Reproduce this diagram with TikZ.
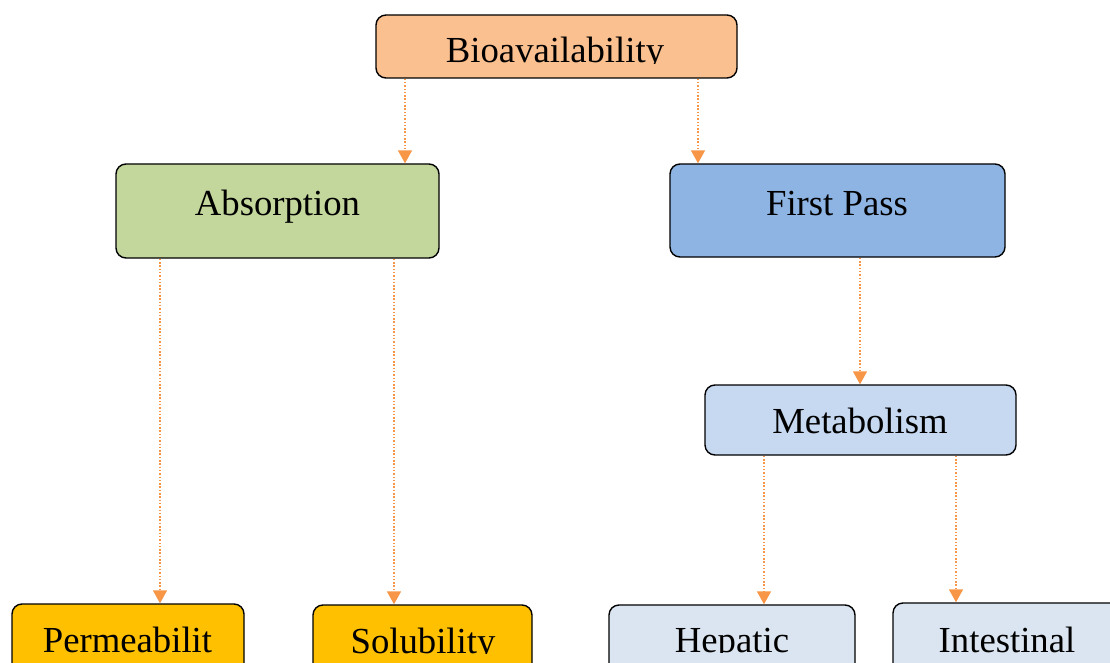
\documentclass[tikz,border=0pt]{standalone}
\usepackage{fontspec}
\setmainfont{Liberation Serif}
\usetikzlibrary{arrows.meta}
\definecolor{peach}{HTML}{FAC090}
\definecolor{green1}{HTML}{C3D69B}
\definecolor{blue1}{HTML}{8EB4E3}
\definecolor{blue2}{HTML}{C6D9F1}
\definecolor{blue3}{HTML}{DBE5F1}
\definecolor{gold}{HTML}{FFC000}
\definecolor{arrc}{HTML}{F79646}
\tikzset{
  box/.style={draw=black, line width=1.4pt, rounded corners=10pt, inner sep=0pt},
  lbl/.style={anchor=base, inner sep=0pt, font=\fontsize{36.7}{44}\selectfont},
  arr/.style={draw=arrc, line width=1.5pt, dash pattern=on 1.5pt off 1.8pt,
    -{Triangle[width=14pt,length=13pt,fill=arrc]}}
}
\begin{document}
\begin{tikzpicture}[x=1pt,y=-1pt]
\useasboundingbox[fill=white] (0,0) rectangle (1110,663);
% boxes
\node[box, fill=peach, minimum width=361pt, minimum height=63pt] (bio) at (556.5,46.5) {};
\node[box, fill=green1, minimum width=323pt, minimum height=94pt] (abs) at (277.5,211) {};
\node[box, fill=blue1, minimum width=335pt, minimum height=93pt] (fp) at (837.5,210.5) {};
\node[box, fill=blue2, minimum width=311pt, minimum height=70pt] (met) at (860.5,420) {};
\node[box, fill=gold, minimum width=232pt, minimum height=80pt] (perm) at (128,644) {};
\node[box, fill=gold, minimum width=219pt, minimum height=80pt] (sol) at (422.5,645) {};
\node[box, fill=blue3, minimum width=246pt, minimum height=80pt] (hep) at (732,645) {};
\node[box, fill=blue3, minimum width=240pt, minimum height=80pt] (int) at (1013,643) {};
% labels (clipped like the original)
\begin{scope}
\clip (376,15) rectangle (737,64);
\node[lbl] (tbio) at (555,63) {Bioavailability};
\end{scope}
\node[lbl] (tabs) at (277.5,215) {Absorption};
\node[lbl] (tfp) at (837,215) {First Pass};
\node[lbl] (tmet) at (860,433) {Metabolism};
\begin{scope}
\clip (12,604) rectangle (244,653);
\node[lbl] (tperm) at (127.5,652) {Permeabilit};
\end{scope}
\begin{scope}
\clip (313,605) rectangle (532,653.5);
\node[lbl] (tsol) at (423,653) {Solubility};
\end{scope}
\begin{scope}
\clip (609,605) rectangle (855,652.5);
\node[lbl] (thep) at (732,652) {Hepatic};
\end{scope}
\node[lbl] (tint) at (1007,652) {Intestinal};
% connectors
\draw[arr] (bio.south -| 405,0) -- (abs.north -| 405,0);
\draw[arr] (bio.south -| 698,0) -- (fp.north -| 698,0);
\draw[arr] (abs.south -| 160,0) -- (perm.north -| 160,0);
\draw[arr] (abs.south -| 394,0) -- (sol.north -| 394,0);
\draw[arr] (fp.south -| 860,0) -- (met.north -| 860,0);
\draw[arr] (met.south -| 764,0) -- (hep.north -| 764,0);
\draw[arr] (met.south -| 956,0) -- (int.north -| 956,0);
\end{tikzpicture}
\end{document}
